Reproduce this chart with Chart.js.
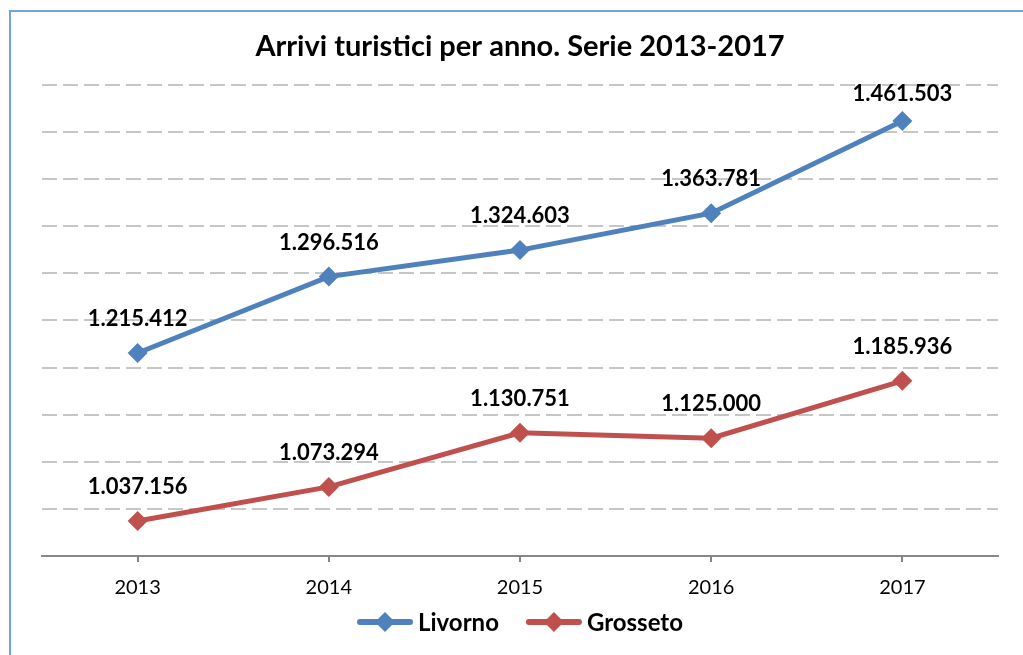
<!DOCTYPE html>
<html>
<head>
<meta charset="utf-8">
<script src="https://cdn.jsdelivr.net/npm/chart.js@4.4.1/dist/chart.umd.min.js"></script>
<style>
  html, body { margin: 0; padding: 0; background: #fff; overflow: hidden; }
  #wrap { position: relative; width: 1023px; height: 655px; }
  #frame { position: absolute; left: 9px; top: 10px; width: 1030px; height: 660px;
           border-left: 2px solid #72a3df; border-top: 2px solid #72a3df; }
  canvas { position: absolute; left: 0; top: 0; }
</style>
</head>
<body>
<div id="wrap">
  <div id="frame"></div>
  <canvas id="chart" width="1023" height="655"></canvas>
</div>
<script>
const years = ['2013', '2014', '2015', '2016', '2017'];
const livorno = [1215412, 1296516, 1324603, 1363781, 1461503];
const grosseto = [1037156, 1073294, 1130751, 1125000, 1185936];
const yMin = 1000000;
const yMax = 1500000;
const yStep = 50000;

const blue = '#4f81bd';
const red = '#c0504d';

function fmt(n) {
    return String(n).replace(/\B(?=(\d{3})+(?!\d))/g, '.');
}

// values written above each point, kept inside the plot area
const valueLabels = {
    id: 'valueLabels',
    afterDatasetsDraw(chart) {
        const ctx = chart.ctx;
        const top = chart.chartArea.top;
        ctx.save();
        ctx.font = 'bold 22px Lato';
        ctx.fillStyle = '#000';
        ctx.textAlign = 'center';
        ctx.textBaseline = 'middle';
        chart.data.datasets.forEach((ds, i) => {
            chart.getDatasetMeta(i).data.forEach((pt, j) => {
                const y = Math.max(pt.y - 34, top + 9);
                ctx.fillText(fmt(ds.data[j]), pt.x, y);
            });
        });
        ctx.restore();
    }
};

// Excel-like legend: line with a diamond, then the series name
const lineLegend = {
    id: 'lineLegend',
    afterDraw(chart) {
        const ctx = chart.ctx;
        const area = chart.chartArea;
        const lineW = 56, textGap = 5, itemGap = 27;
        const y = 622;
        ctx.save();
        ctx.font = 'bold 24px Lato';
        ctx.textBaseline = 'middle';
        ctx.textAlign = 'left';
        const items = chart.data.datasets.map(ds => ({
            label: ds.label,
            color: ds.borderColor,
            w: lineW + textGap + ctx.measureText(ds.label).width
        }));
        const total = items.reduce((s, it) => s + it.w, 0) + itemGap * (items.length - 1);
        let x = (area.left + area.right) / 2 - total / 2;
        items.forEach(it => {
            ctx.strokeStyle = it.color;
            ctx.fillStyle = it.color;
            ctx.lineWidth = 6;
            ctx.lineCap = 'round';
            ctx.beginPath();
            ctx.moveTo(x + 3, y);
            ctx.lineTo(x + lineW - 3, y);
            ctx.stroke();
            Chart.helpers.drawPoint(ctx, { pointStyle: 'rectRot', radius: 10, borderWidth: 0, rotation: 0 }, x + lineW / 2, y);
            ctx.fillStyle = '#000';
            ctx.fillText(it.label, x + lineW + textGap, y + 1);
            x += it.w + itemGap;
        });
        ctx.restore();
    }
};

new Chart(document.getElementById('chart'), {
    type: 'line',
    data: {
        labels: years,
        datasets: [
            {
                label: 'Livorno',
                data: livorno,
                borderColor: blue,
                backgroundColor: blue,
                borderWidth: 5,
                pointStyle: 'rectRot',
                pointRadius: 10,
                pointBorderWidth: 0,
                tension: 0
            },
            {
                label: 'Grosseto',
                data: grosseto,
                borderColor: red,
                backgroundColor: red,
                borderWidth: 5,
                pointStyle: 'rectRot',
                pointRadius: 10,
                pointBorderWidth: 0,
                tension: 0
            }
        ]
    },
    options: {
        responsive: false,
        animation: false,
        events: [],
        layout: { padding: { left: 42, right: 25, top: 10, bottom: 41 } },
        plugins: {
            title: {
                display: true,
                text: 'Arrivi turistici per anno. Serie 2013-2017',
                color: '#000',
                font: { family: 'Lato', size: 29, weight: 'bold' },
                padding: { top: 19, bottom: 21 }
            },
            legend: { display: false },
            tooltip: { enabled: false }
        },
        scales: {
            x: {
                offset: true,
                grid: { drawOnChartArea: false, drawTicks: true, tickLength: 6, color: '#868686', lineWidth: 2 },
                border: { color: '#868686', width: 2 },
                ticks: { color: '#000', font: { family: 'Lato', size: 20 }, padding: 14 }
            },
            y: {
                min: yMin,
                max: yMax,
                ticks: { display: false, stepSize: yStep },
                grid: {
                    drawTicks: false,
                    lineWidth: 2,
                    color: ctx => ctx.tick && ctx.tick.value === yMin ? 'rgba(0,0,0,0)' : '#c6c6c6'
                },
                border: { display: false, dash: [15, 6] }
            }
        }
    },
    plugins: [valueLabels, lineLegend]
});
</script>
</body>
</html>
